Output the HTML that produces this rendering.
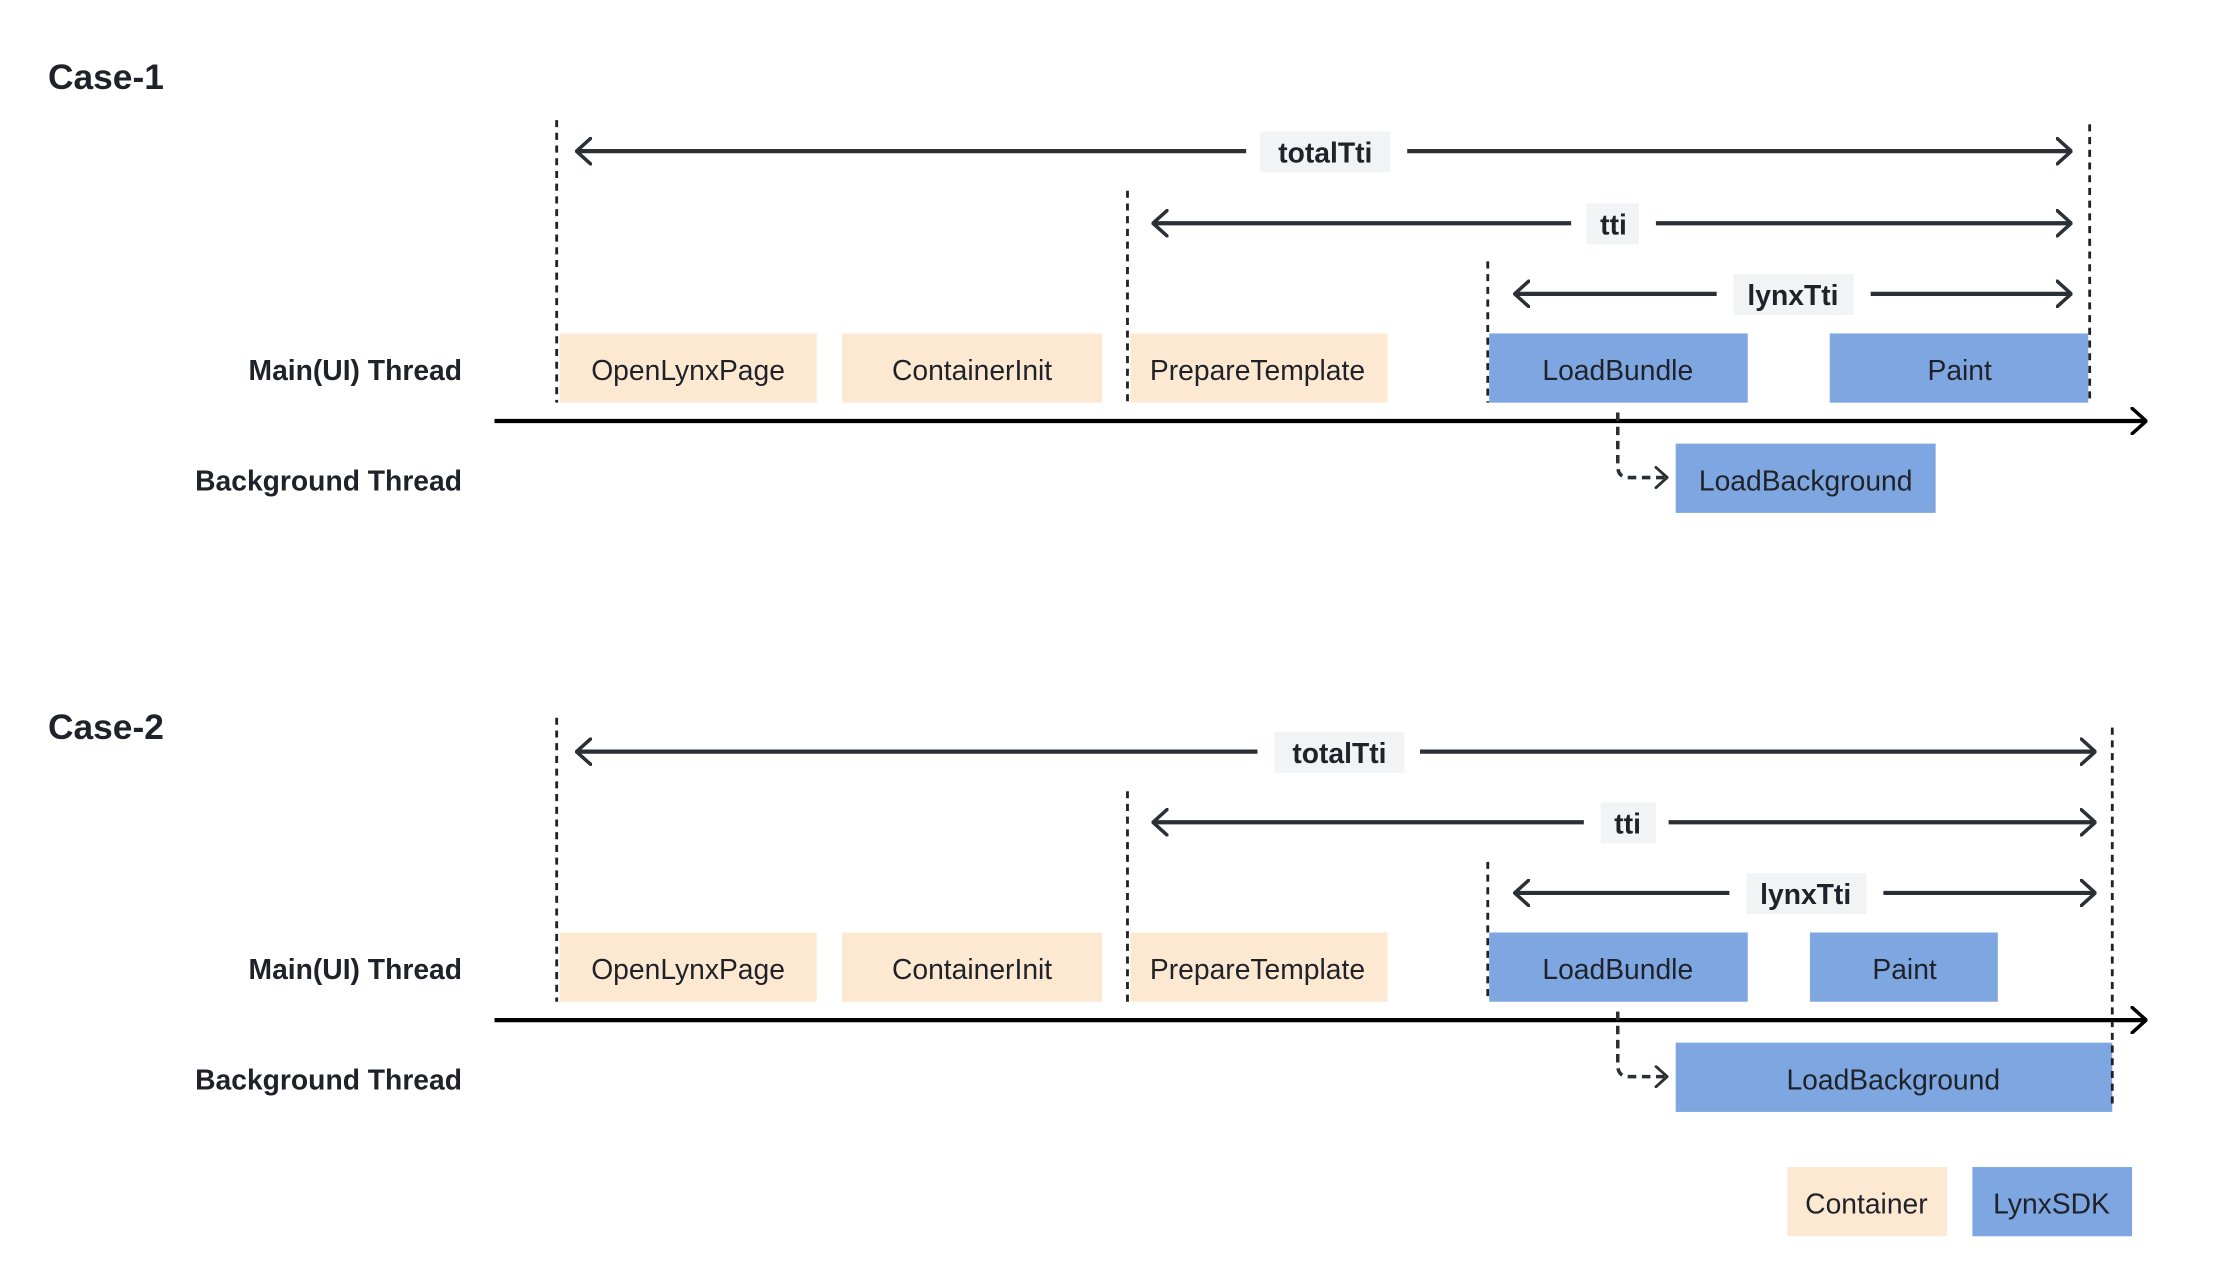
<!DOCTYPE html>
<html><head><meta charset="utf-8"><style>
html,body{margin:0;padding:0;background:#fff;}
svg{display:block;}
text{font-family:"Liberation Sans",sans-serif;fill:#1f2329;}
.b{font-weight:bold;}
</style></head><body>
<svg width="2214" height="1286" viewBox="0 0 1567 910.2" preserveAspectRatio="none" xmlns="http://www.w3.org/2000/svg">
<defs>
<marker id="ah" viewBox="0 0 12 20" refX="11" refY="10" markerWidth="12" markerHeight="20" markerUnits="userSpaceOnUse" orient="auto-start-reverse">
<path d="M1 1 L11 10 L1 19" fill="none" stroke="#2b2f36" stroke-width="2.5" stroke-linecap="round"/>
</marker>
<marker id="ah2" viewBox="0 0 12 20" refX="11" refY="10" markerWidth="12" markerHeight="20" markerUnits="userSpaceOnUse" orient="auto">
<path d="M1 1 L11 10 L1 19" fill="none" stroke="#000" stroke-width="2.5" stroke-linecap="round"/>
</marker>
<marker id="ah3" viewBox="0 0 12 20" refX="11" refY="10" markerWidth="10" markerHeight="16" markerUnits="userSpaceOnUse" orient="auto">
<path d="M1 1 L11 10 L1 19" fill="none" stroke="#2b2f36" stroke-width="2.5" stroke-linecap="round"/>
</marker>
</defs>

<g id="case1">
<text x="34" y="63" class="b" font-size="25">Case-1</text>
<g stroke="#1f2329" stroke-width="2" stroke-dasharray="5,4">
<line x1="394" y1="85" x2="394" y2="285"/>
<line x1="798" y1="135" x2="798" y2="285"/>
<line x1="1053" y1="185" x2="1053" y2="285"/>
<line x1="1479" y1="88" x2="1479" y2="285"/>
</g>
<rect x="396" y="236" width="182" height="49" fill="#fde9d2"/>
<rect x="596" y="236" width="184" height="49" fill="#fde9d2"/>
<rect x="800" y="236" width="182" height="49" fill="#fde9d2"/>
<rect x="1054" y="236" width="183" height="49" fill="#7ea6e0"/>
<rect x="1295" y="236" width="183" height="49" fill="#7ea6e0"/>
<rect x="1186" y="314" width="184" height="49" fill="#7ea6e0"/>
<g font-size="20" text-anchor="middle">
<text x="487" y="269">OpenLynxPage</text>
<text x="688" y="269">ContainerInit</text>
<text x="890" y="269">PrepareTemplate</text>
<text x="1145" y="269">LoadBundle</text>
<text x="1387" y="269">Paint</text>
<text x="1278" y="347">LoadBackground</text>
</g>
<g stroke="#2b2f36" stroke-width="3" fill="none">
<line x1="408" y1="107" x2="882" y2="107" marker-start="url(#ah)"/>
<line x1="996" y1="107" x2="1466" y2="107" marker-end="url(#ah)"/>
<line x1="816" y1="158" x2="1112" y2="158" marker-start="url(#ah)"/>
<line x1="1172" y1="158" x2="1466" y2="158" marker-end="url(#ah)"/>
<line x1="1072" y1="208" x2="1215" y2="208" marker-start="url(#ah)"/>
<line x1="1324" y1="208" x2="1466" y2="208" marker-end="url(#ah)"/>
</g>
<rect x="892" y="93" width="92" height="29" fill="#f2f3f5"/>
<rect x="1123" y="144" width="37" height="29" fill="#f2f3f5"/>
<rect x="1227" y="194" width="85" height="29" fill="#f2f3f5"/>
<g font-size="20" text-anchor="middle" class="b">
<text x="938" y="115" class="b">totalTti</text>
<text x="1142" y="166" class="b">tti</text>
<text x="1269" y="216" class="b">lynxTti</text>
</g>
<line x1="350" y1="298" x2="1519" y2="298" stroke="#000" stroke-width="3" marker-end="url(#ah2)"/>
<path d="M1145 292 L1145 330 Q1145 338 1153 338 L1180 338" fill="none" stroke="#2b2f36" stroke-width="2.5" stroke-dasharray="6,4" marker-end="url(#ah3)"/>
<g font-size="20" text-anchor="end" class="b">
<text x="327" y="269" class="b">Main(UI) Thread</text>
<text x="327" y="347" class="b">Background Thread</text>
</g>
</g>

<g id="case2">
<text x="34" y="523" class="b" font-size="25">Case-2</text>
<g stroke="#1f2329" stroke-width="2" stroke-dasharray="5,4">
<line x1="394" y1="508" x2="394" y2="709"/>
<line x1="798" y1="560" x2="798" y2="709"/>
<line x1="1053" y1="610" x2="1053" y2="709"/>
</g>
<rect x="396" y="660" width="182" height="49" fill="#fde9d2"/>
<rect x="596" y="660" width="184" height="49" fill="#fde9d2"/>
<rect x="800" y="660" width="182" height="49" fill="#fde9d2"/>
<rect x="1054" y="660" width="183" height="49" fill="#7ea6e0"/>
<rect x="1281" y="660" width="133" height="49" fill="#7ea6e0"/>
<rect x="1186" y="738" width="309" height="49" fill="#7ea6e0"/>
<line x1="1495" y1="515" x2="1495" y2="785" stroke="#1f2329" stroke-width="2" stroke-dasharray="5,4"/>
<g font-size="20" text-anchor="middle">
<text x="487" y="693">OpenLynxPage</text>
<text x="688" y="693">ContainerInit</text>
<text x="890" y="693">PrepareTemplate</text>
<text x="1145" y="693">LoadBundle</text>
<text x="1348" y="693">Paint</text>
<text x="1340" y="771">LoadBackground</text>
</g>
<g stroke="#2b2f36" stroke-width="3" fill="none">
<line x1="408" y1="532" x2="890" y2="532" marker-start="url(#ah)"/>
<line x1="1005" y1="532" x2="1483" y2="532" marker-end="url(#ah)"/>
<line x1="816" y1="582" x2="1121" y2="582" marker-start="url(#ah)"/>
<line x1="1181" y1="582" x2="1483" y2="582" marker-end="url(#ah)"/>
<line x1="1072" y1="632" x2="1224" y2="632" marker-start="url(#ah)"/>
<line x1="1333" y1="632" x2="1483" y2="632" marker-end="url(#ah)"/>
</g>
<rect x="902" y="518" width="92" height="29" fill="#f2f3f5"/>
<rect x="1133" y="568" width="39" height="29" fill="#f2f3f5"/>
<rect x="1236" y="618" width="85" height="29" fill="#f2f3f5"/>
<g font-size="20" text-anchor="middle">
<text x="948" y="540" class="b">totalTti</text>
<text x="1152" y="590" class="b">tti</text>
<text x="1278" y="640" class="b">lynxTti</text>
</g>
<line x1="350" y1="722" x2="1519" y2="722" stroke="#000" stroke-width="3" marker-end="url(#ah2)"/>
<path d="M1145 716 L1145 754 Q1145 762 1153 762 L1180 762" fill="none" stroke="#2b2f36" stroke-width="2.5" stroke-dasharray="6,4" marker-end="url(#ah3)"/>
<g font-size="20" text-anchor="end">
<text x="327" y="693" class="b">Main(UI) Thread</text>
<text x="327" y="771" class="b">Background Thread</text>
</g>
</g>

<rect x="1265" y="826" width="113" height="49" fill="#fde9d2"/>
<rect x="1396" y="826" width="113" height="49" fill="#7ea6e0"/>
<g font-size="20" text-anchor="middle">
<text x="1321" y="859">Container</text>
<text x="1452" y="859">LynxSDK</text>
</g>
</svg>
</body></html>
